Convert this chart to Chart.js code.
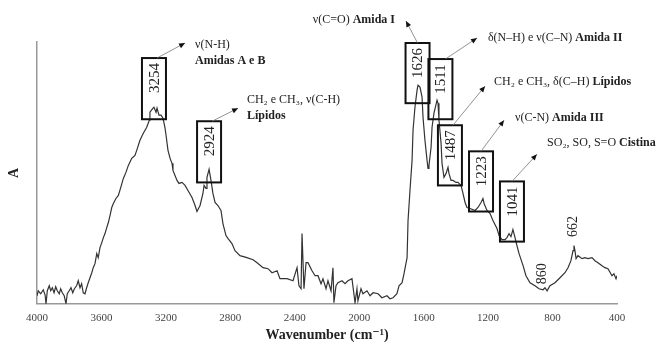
<!DOCTYPE html>
<html lang="pt">
<head>
<meta charset="UTF-8">
<title>Espectro FTIR</title>
<script src="https://cdn.jsdelivr.net/npm/chart.js@4"></script>
<style>
  html, body { margin: 0; padding: 0; background: #fff; }
  .wrap { width: 660px; height: 345px; }
</style>
</head>
<body>
<div class="wrap"><canvas id="spectrum" width="660" height="345"></canvas></div>
<script>
// spectrum: wavenumber (cm-1) and absorbance (arbitrary units)
const wavenumber = [
  4000, 3992, 3977, 3961, 3950, 3944, 3936, 3924, 3915, 3905,
  3894, 3884, 3874, 3862, 3853, 3843, 3831, 3820, 3812, 3800,
  3789, 3778, 3768, 3754, 3744, 3733, 3723, 3713, 3702, 3692,
  3682, 3671, 3660, 3651, 3640, 3629, 3620, 3609, 3598, 3588,
  3578, 3567, 3557, 3547, 3536, 3526, 3510, 3495, 3480, 3464,
  3448, 3433, 3412, 3392, 3381, 3361, 3340, 3319, 3303, 3299,
  3280, 3274, 3261, 3255, 3243, 3230, 3218, 3206, 3199, 3187,
  3174, 3162, 3156, 3131, 3119, 3100, 3081, 3063, 3038, 3019,
  3007, 2988, 2970, 2963, 2951, 2945, 2932, 2920, 2908, 2895,
  2877, 2858, 2846, 2827, 2814, 2790, 2771, 2740, 2697, 2659,
  2634, 2597, 2566, 2541, 2510, 2492, 2448, 2411, 2386, 2374,
  2361, 2355, 2343, 2330, 2318, 2293, 2274, 2256, 2237, 2225,
  2206, 2194, 2175, 2163, 2157, 2144, 2132, 2107, 2088, 2070,
  2045, 2026, 2014, 2008, 1989, 1977, 1952, 1933, 1914, 1883,
  1859, 1828, 1809, 1790, 1766, 1753, 1734, 1722, 1703, 1697,
  1685, 1672, 1666, 1654, 1641, 1635, 1623, 1610, 1604, 1592,
  1579, 1573, 1567, 1554, 1548, 1536, 1517, 1511, 1505, 1492,
  1486, 1474, 1461, 1449, 1443, 1430, 1418, 1399, 1387, 1368,
  1356, 1343, 1331, 1312, 1281, 1263, 1244, 1232, 1225, 1207,
  1188, 1170, 1145, 1132, 1114, 1095, 1083, 1070, 1058, 1046,
  1033, 1021, 1008, 983, 965, 940, 909, 884, 859, 847,
  834, 816, 785, 754, 723, 704, 686, 673, 667, 661,
  654, 642, 617, 599, 580, 555, 537, 518, 493, 475,
  456, 431, 419, 406, 400
];
const absorbance = [
  8, 13, 10, 14, 9, 0, 13, 18, 13, 16,
  11, 17, 13, 10, 15, 11, 8, 0, 10, 13,
  16, 11, 15, 18, 23, 16, 20, 11, 10, 16,
  21, 26, 31, 36, 40, 50, 46, 56, 61, 66,
  70, 76, 81, 88, 96, 100, 105, 108, 116, 125,
  131, 138, 145, 148, 153, 163, 170, 176, 183, 191,
  195, 196, 191, 195, 188, 188, 185, 176, 168, 153,
  145, 140, 133, 123, 120, 121, 118, 113, 106, 98,
  92, 98, 110, 118, 115, 126, 134, 123, 110, 101,
  98, 93, 80, 68, 65, 60, 53, 48, 46, 44,
  41, 36, 35, 31, 33, 25, 25, 23, 36, 18,
  15, 70, 15, 41, 41, 33, 28, 28, 20, 25,
  15, 23, 13, 36, 1, 18, 21, 23, 20, 23,
  25, 1, 15, 3, 15, 10, 13, 8, 11, 10,
  6, 8, 5, 6, 10, 18, 21, 30, 46, 83,
  113, 143, 173, 196, 213, 218, 216, 206, 186, 163,
  143, 135, 138, 156, 176, 190, 203, 200, 183, 160,
  140, 126, 130, 136, 130, 123, 123, 121, 121, 118,
  110, 101, 96, 95, 93, 96, 101, 105, 100, 93,
  90, 83, 75, 68, 64, 64, 66, 70, 67, 74,
  66, 58, 50, 38, 28, 21, 18, 15, 14, 16,
  13, 18, 21, 26, 31, 36, 43, 53, 58, 53,
  45, 48, 45, 46, 45, 46, 43, 41, 38, 36,
  35, 28, 30, 25, 28
];
const xTicks = [4000, 3600, 3200, 2800, 2400, 2000, 1600, 1200, 800, 400];

// boxed band labels: text, box centre (cm-1), box top / bottom (absorbance units)
const boxLabels = ['3254', '2924', '1626', '1511', '1487', '1223', '1041'];
const boxWn     = [3274, 2932, 1638, 1496, 1437, 1244, 1052];
const boxTop    = [245, 182, 260, 244, 178, 152, 122];
const boxBottom = [184, 121, 200, 184, 118, 92, 62];

// assignments pointed at from each box
const noteLines = [
  [[['ν(N-H)', false]], [['Amidas A e B', true]]],
  [[['CH₂ e CH₃, ν(C-H)', false]], [['Lípidos', true]]],
  [[['ν(C=O) ', false], ['Amida I', true]]],
  [[['δ(N–H) e ν(C–N) ', false], ['Amida II', true]]],
  [[['CH₂ e CH₃, δ(C–H) ', false], ['Lípidos', true]]],
  [[['ν(C-N) ', false], ['Amida III', true]]],
  [[['SO₂, SO, S=O ', false], ['Cistina', true]]]
];
const noteWn    = [3019, 2697, 1778, 1201, 1163, 1033, 834];
const noteA     = [258, 203, 283, 265, 221, 185, 160];
const noteAlign = ['left', 'left', 'right', 'left', 'left', 'left', 'left'];
const arrowWn   = [3081, 2752, 1710, 1269, 1219, 1101, 897];
const arrowA    = [260, 195, 282, 265, 217, 183, 149];

// unboxed band labels
const plainLabels = ['860', '662'];
const plainWn = [862, 670];
const plainA  = [30, 77];

const SERIF = "'Liberation Serif', 'DejaVu Serif', serif";

const annotations = {
  id: 'annotations',
  afterDatasetsDraw(chart) {
    const ctx = chart.ctx;
    const area = chart.chartArea;
    const xs = chart.scales.x, ys = chart.scales.y;
    const px = v => xs.getPixelForValue(v);
    const py = v => ys.getPixelForValue(v);
    const startDx = [3, 3, 0, 5, 3, 0, 0];

    ctx.save();

    // boxes with rotated wavenumbers
    boxLabels.forEach((lab, i) => {
      const cx = px(boxWn[i]);
      const top = py(boxTop[i]), bot = py(boxBottom[i]);
      ctx.strokeStyle = '#111';
      ctx.lineWidth = 2;
      ctx.strokeRect(cx - 12, top, 24, bot - top);
      ctx.save();
      ctx.translate(cx, top + 20);
      ctx.rotate(-Math.PI / 2);
      ctx.fillStyle = '#222';
      ctx.font = '15px ' + SERIF;
      ctx.textAlign = 'center';
      ctx.textBaseline = 'middle';
      ctx.fillText(lab, 0, 1);
      ctx.restore();
    });

    // arrows
    boxLabels.forEach((lab, i) => {
      const x0 = px(boxWn[i]) + startDx[i], y0 = py(boxTop[i]);
      const x1 = px(arrowWn[i]), y1 = py(arrowA[i]);
      ctx.strokeStyle = '#777';
      ctx.lineWidth = 0.8;
      ctx.beginPath();
      ctx.moveTo(x0, y0);
      ctx.lineTo(x1, y1);
      ctx.stroke();
      const ang = Math.atan2(y1 - y0, x1 - x0);
      ctx.fillStyle = '#111';
      ctx.beginPath();
      ctx.moveTo(x1, y1);
      ctx.lineTo(x1 - 6 * Math.cos(ang) + 2.6 * Math.sin(ang), y1 - 6 * Math.sin(ang) - 2.6 * Math.cos(ang));
      ctx.lineTo(x1 - 6 * Math.cos(ang) - 2.6 * Math.sin(ang), y1 - 6 * Math.sin(ang) + 2.6 * Math.cos(ang));
      ctx.closePath();
      ctx.fill();
    });

    // assignment texts
    ctx.fillStyle = '#222';
    ctx.textBaseline = 'middle';
    ctx.textAlign = 'left';
    noteLines.forEach((lines, i) => {
      lines.forEach((segs, j) => {
        const fonts = segs.map(s => (s[1] ? 'bold ' : '') + '12px ' + SERIF);
        const widths = segs.map((s, k) => { ctx.font = fonts[k]; return ctx.measureText(s[0]).width; });
        const total = widths.reduce((a, b) => a + b, 0);
        let x = px(noteWn[i]);
        if (noteAlign[i] === 'right') x -= total;
        const y = py(noteA[i]) + j * 16;
        segs.forEach((s, k) => {
          ctx.font = fonts[k];
          ctx.fillText(s[0], x, y);
          x += widths[k];
        });
      });
    });

    // unboxed rotated labels
    plainLabels.forEach((lab, i) => {
      ctx.save();
      ctx.translate(px(plainWn[i]), py(plainA[i]));
      ctx.rotate(-Math.PI / 2);
      ctx.font = '14px ' + SERIF;
      ctx.textAlign = 'center';
      ctx.textBaseline = 'middle';
      ctx.fillText(lab, 0, 0);
      ctx.restore();
    });

    // axis titles
    ctx.save();
    ctx.translate(14, (area.top + area.bottom) / 2);
    ctx.rotate(-Math.PI / 2);
    ctx.font = 'bold 14px ' + SERIF;
    ctx.textAlign = 'center';
    ctx.textBaseline = 'middle';
    ctx.fillText('A', 0, 0);
    ctx.restore();

    ctx.font = 'bold 14px ' + SERIF;
    ctx.textAlign = 'center';
    ctx.textBaseline = 'middle';
    ctx.fillText('Wavenumber (cm⁻¹)', (area.left + area.right) / 2, 335);

    ctx.restore();
  }
};

new Chart(document.getElementById('spectrum'), {
  type: 'line',
  data: {
    datasets: [{
      data: wavenumber.map((w, i) => ({ x: w, y: absorbance[i] })),
      borderColor: '#333',
      borderWidth: 1.2,
      pointRadius: 0,
      tension: 0,
      fill: false
    }]
  },
  options: {
    responsive: false,
    animation: false,
    devicePixelRatio: 1,
    layout: { padding: { left: 37, right: 43, top: 42, bottom: 12 } },
    plugins: { legend: { display: false }, tooltip: { enabled: false } },
    scales: {
      x: {
        type: 'linear',
        reverse: true,
        min: 400,
        max: 4000,
        afterBuildTicks: s => { s.ticks = xTicks.map(v => ({ value: v })); },
        grid: { display: false, drawTicks: false },
        border: { display: true, color: '#999', width: 1.5 },
        ticks: {
          color: '#444',
          padding: 8,
          font: { family: SERIF, size: 11 },
          callback: v => String(v)
        }
      },
      y: {
        min: 0,
        max: 261,
        grid: { display: false, drawTicks: false },
        border: { display: true, color: '#999', width: 1.5 },
        ticks: { display: false }
      }
    }
  },
  plugins: [annotations]
});
</script>
</body>
</html>
